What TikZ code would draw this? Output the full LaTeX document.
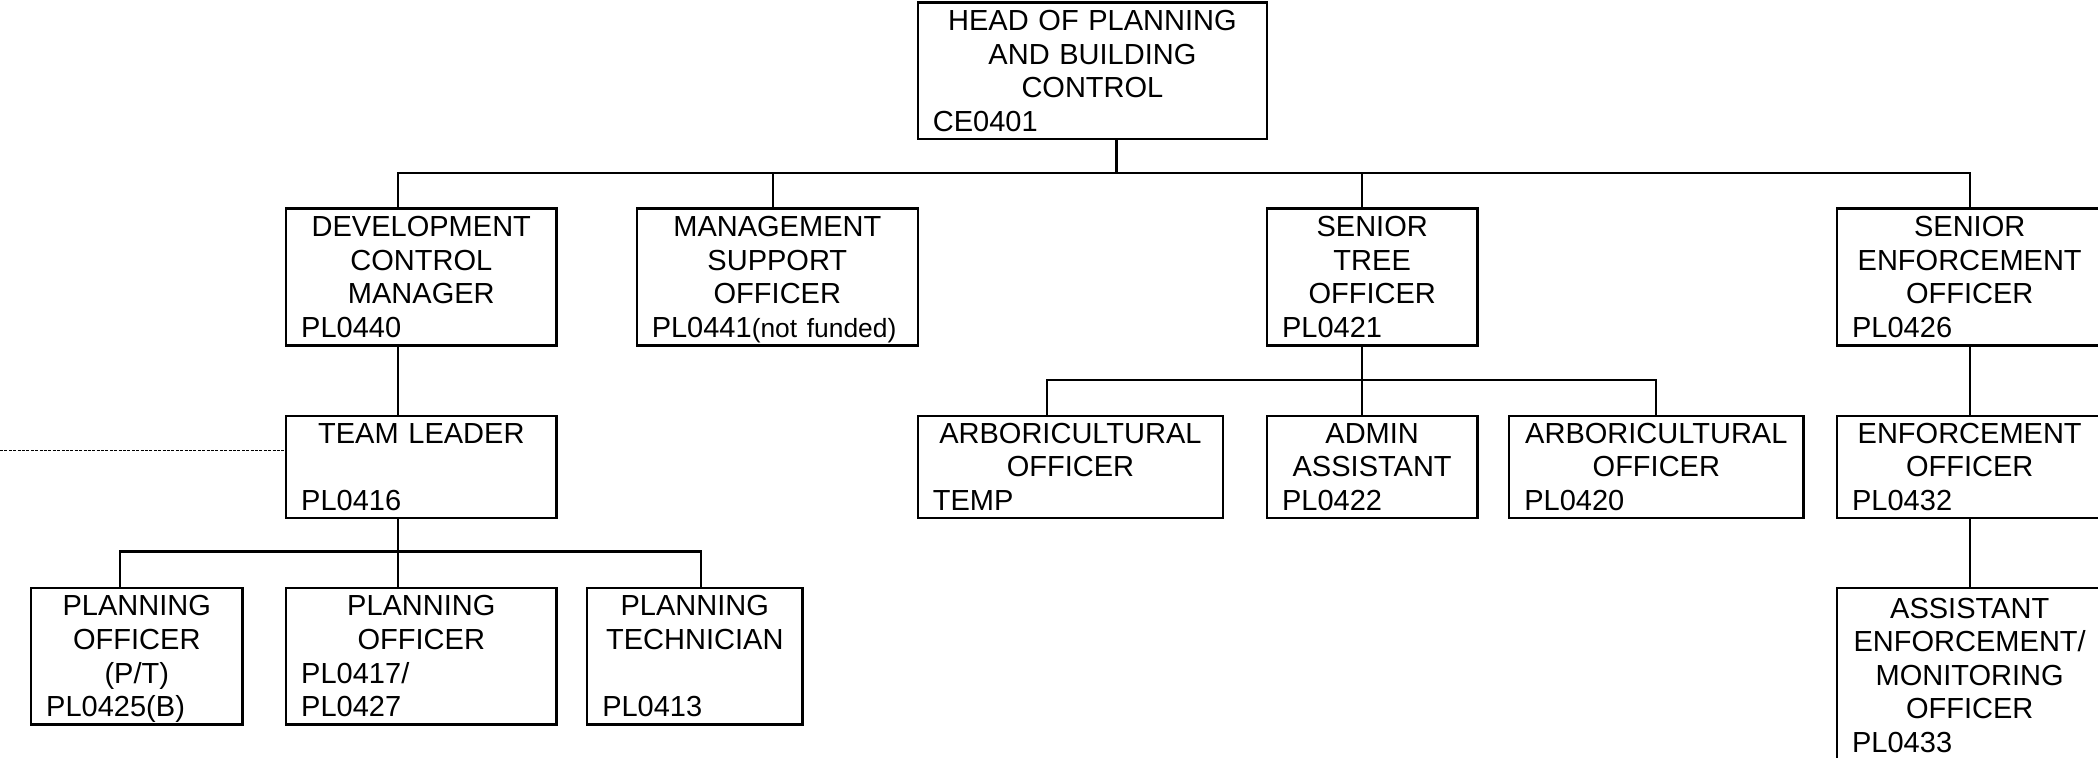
\documentclass[tikz,border=0pt]{standalone}
\usepackage{fontspec}
\setmainfont{Liberation Sans}
\usepackage{tikz}
\usetikzlibrary{positioning,calc}

\newcommand{\postno}[1]{\makebox[\linewidth][l]{\raisebox{0pt}[\height][0pt]{#1}}}
\newcommand{\smallnote}[1]{{\fontsize{7.5pt}{9.56pt}\selectfont #1}}

\begin{document}
\begin{tikzpicture}[link/.style = {line width=0.6pt}, x=0.01cm, y=-0.01cm]
		\tikzset{post/.style n args={3}{draw=black, line width=0.7pt, rectangle, inner sep=0pt, anchor=north west, align=center, minimum width=#1, text width=#2, minimum height=#3, font=\fontsize{8.25pt}{9.56pt}\selectfont}}
		\useasboundingbox (0,0) rectangle (2098,758);

		\node[post={3.492cm}{3.19cm}{1.363cm}] (head) at (916.5,1.5) {HEAD OF PLANNING\\AND BUILDING\\CONTROL\\\postno{CE0401}};

		\node[post={2.70cm}{2.40cm}{1.365cm}] (dcm) at (285,207.5) {DEVELOPMENT\\CONTROL\\MANAGER\\\postno{PL0440}};
		\node[post={2.81cm}{2.51cm}{1.365cm}] (mso) at (635.5,207.5) {MANAGEMENT\\SUPPORT\\OFFICER\\\postno{PL0441\smallnote{(not funded)}}};
		\node[post={2.103cm}{1.80cm}{1.365cm}] (sto) at (1265.7,207.5) {SENIOR\\TREE\\OFFICER\\\postno{PL0421}};
		\node[post={2.653cm}{2.35cm}{1.365cm}] (seo) at (1835.7,207.5) {SENIOR\\ENFORCEMENT\\OFFICER\\\postno{PL0426}};

		\node[post={2.70cm}{2.40cm}{1.022cm}] (tl) at (285,414.5) {TEAM LEADER\\\mbox{}\\\postno{PL0416}};
		\node[post={3.052cm}{2.75cm}{1.022cm}] (arb1) at (916.5,414.5) {ARBORICULTURAL\\OFFICER\\\postno{TEMP}};
		\node[post={2.103cm}{1.80cm}{1.022cm}] (adm) at (1265.7,414.5) {ADMIN\\ASSISTANT\\\postno{PL0422}};
		\node[post={2.94cm}{2.64cm}{1.022cm}] (arb2) at (1508,414.5) {ARBORICULTURAL\\OFFICER\\\postno{PL0420}};
		\node[post={2.653cm}{2.35cm}{1.022cm}] (eo) at (1835.7,414.5) {ENFORCEMENT\\OFFICER\\\postno{PL0432}};

		\node[post={2.11cm}{1.81cm}{1.366cm}] (po1) at (30,586.7) {PLANNING\\OFFICER\\(P/T)\\\postno{PL0425(B)}};
		\node[post={2.70cm}{2.40cm}{1.366cm}] (po2) at (285,586.7) {PLANNING\\OFFICER\\\postno{PL0417/}\\\postno{PL0427}};
		\node[post={2.15cm}{1.85cm}{1.366cm}] (pt) at (586,586.7) {PLANNING\\TECHNICIAN\\\mbox{}\\\postno{PL0413}};
		\node[post={2.653cm}{2.35cm}{1.743cm}] (asst) at (1835.7,586.7) {ASSISTANT\\ENFORCEMENT/\\MONITORING\\OFFICER\\\postno{PL0433}};

		\coordinate (hb) at (1116.5,172.7);
		\coordinate (tb) at (398,551.5);
		\coordinate (sb) at (1362,380);
		\coordinate (off) at (0,450.5);

		\draw [link] (head.south -| hb) -- (hb) -| (dcm.north -| 398,0);
		\draw [link] (hb) -| (mso.north -| 773,0);
		\draw [link] (hb) -| (sto.north -| sb);
		\draw [link] (hb) -| (seo.north);

		\draw [link] (dcm.south -| tb) -- (tl.north -| tb);
		\draw [link] (tl.south -| tb) -- (tb) -| (po1.north -| 120,0);
		\draw [link] (tb) -- (po2.north -| tb);
		\draw [link] (tb) -| (pt.north -| 701,0);

		\draw [link] (sto.south -| sb) -- (sb) -| (arb1.north -| 1046.7,0);
		\draw [link] (sb) -- (adm.north -| sb);
		\draw [link] (sb) -| (arb2.north -| 1656,0);

		\draw [link] (seo.south) -- (eo.north);
		\draw [link] (eo.south) -- (asst.north);

		\draw [line width=0.35pt, dash pattern=on 0.85pt off 0.4pt] (off) -- (tl.west |- off);

	\end{tikzpicture}
\end{document}
